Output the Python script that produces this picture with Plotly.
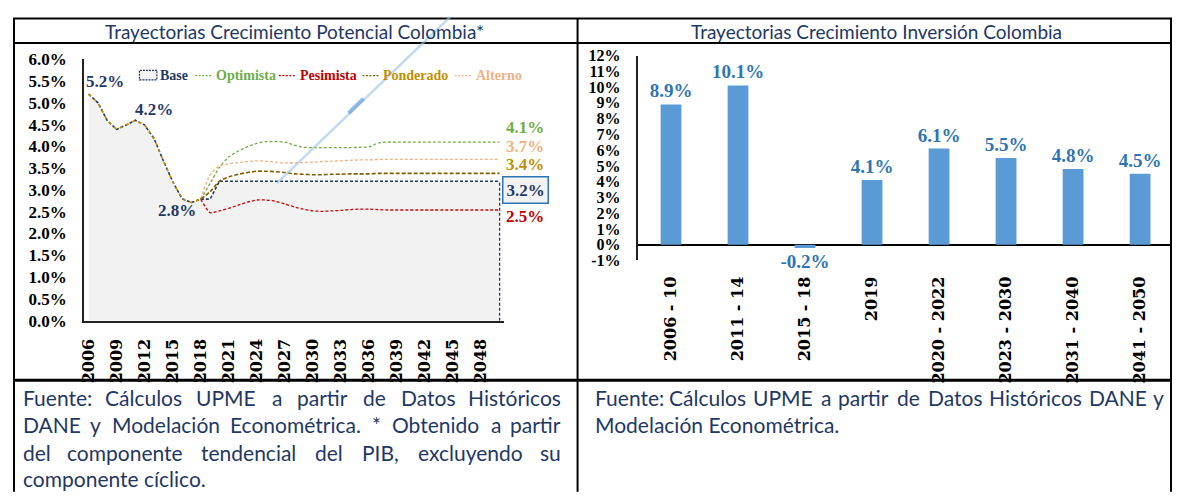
import plotly.graph_objects as go

# The page body keeps its default 8px margin, so the figure is sized to fit the window inside it.
OX, OY = 8, 8
FW, FH = 1164, 486

# ---------------- data: left chart (potential growth, % per year) ----------------
years = list(range(2006, 2051))
year_ticks = [2006, 2009, 2012, 2015, 2018, 2021, 2024, 2027, 2030, 2033, 2036, 2039, 2042, 2045, 2048]
hist_vals = [5.20, 5.00, 4.59, 4.39, 4.49, 4.60, 4.49, 4.18, 3.67, 3.19, 2.80, 2.71, 2.79]  # 2006-2018
# projections 2019-2050
base_proj = [2.79, 3.20, 3.20, 3.20, 3.20, 3.20, 3.20, 3.20, 3.20, 3.20, 3.20, 3.20, 3.20, 3.20, 3.20, 3.20,
             3.20, 3.20, 3.20, 3.20, 3.20, 3.20, 3.20, 3.20, 3.20, 3.20, 3.20, 3.20, 3.20, 3.20, 3.20, 3.20]
opt_proj = [3.15, 3.52, 3.76, 3.89, 3.99, 4.07, 4.11, 4.11, 4.10, 4.03, 3.98, 3.97, 3.97, 3.97, 3.97, 3.97,
            3.98, 3.99, 4.08, 4.10, 4.10, 4.10, 4.10, 4.10, 4.10, 4.10, 4.10, 4.10, 4.10, 4.10, 4.10, 4.10]
pes_proj = [2.48, 2.52, 2.58, 2.65, 2.72, 2.77, 2.77, 2.74, 2.68, 2.61, 2.56, 2.52, 2.51, 2.52, 2.53, 2.55,
            2.56, 2.56, 2.55, 2.54, 2.54, 2.54, 2.54, 2.54, 2.54, 2.54, 2.54, 2.54, 2.54, 2.54, 2.54, 2.54]
pon_proj = [2.96, 3.20, 3.30, 3.36, 3.40, 3.43, 3.43, 3.42, 3.40, 3.37, 3.36, 3.35, 3.35, 3.36, 3.36, 3.37,
            3.37, 3.37, 3.38, 3.38, 3.38, 3.38, 3.38, 3.38, 3.38, 3.38, 3.38, 3.38, 3.38, 3.38, 3.38, 3.38]
alt_proj = [3.35, 3.55, 3.60, 3.63, 3.65, 3.67, 3.66, 3.64, 3.62, 3.62, 3.63, 3.64, 3.65, 3.66, 3.67, 3.68,
            3.69, 3.69, 3.70, 3.70, 3.70, 3.70, 3.70, 3.70, 3.70, 3.70, 3.70, 3.70, 3.70, 3.70, 3.70, 3.70]
left_yticks = [0.0, 0.5, 1.0, 1.5, 2.0, 2.5, 3.0, 3.5, 4.0, 4.5, 5.0, 5.5, 6.0]

# ---------------- data: right chart (investment growth) ----------------
periods = ["2006 - 10", "2011 - 14", "2015 - 18", "2019", "2020 - 2022", "2023 - 2030", "2031 - 2040", "2041 - 2050"]
inv_growth = [8.9, 10.1, -0.2, 4.1, 6.1, 5.5, 4.8, 4.5]
right_yticks = [-1, 0, 1, 2, 3, 4, 5, 6, 7, 8, 9, 10, 11, 12]

# ---------------- texts ----------------
title_left = "Trayectorias Crecimiento Potencial Colombia*"
title_right = "Trayectorias Crecimiento Inversión Colombia"
foot_left = ["Fuente: Cálculos UPME a partir de Datos Históricos",
             "DANE y Modelación Econométrica. * Obtenido a partir",
             "del componente tendencial del PIB, excluyendo su",
             "componente cíclico."]
foot_right = ["Fuente: Cálculos UPME a partir de Datos Históricos DANE y",
              "Modelación Econométrica."]

# ---------------- styles ----------------
NAVY = "#1F3864"
GREEN = "#70AD47"
RED = "#D00000"
RED_T = "#C00000"
GOLD_T = "#BF9000"
BROWN = "#7F6000"
PEACH = "#F4B183"
BAR = "#5B9BD5"
BAR_T = "#2E75B6"
SERIF = "Liberation Serif"
WIDE_SERIF = "DejaVu Serif"
SANS = "Lato"


def px(x):
    return (x - OX) / FW


def py(y):
    return 1 - (y - OY) / FH


def clamp(v):
    return max(0.0, min(1.0, v))


hist_years = years[:len(hist_vals)]
proj_years = years[len(hist_vals) - 1:]

fig = go.Figure()

# Base (area)
base_all = hist_vals + base_proj
fig.add_trace(go.Scatter(x=years, y=base_all, mode="lines", fill="tozeroy", fillcolor="#F2F2F2",
                         line=dict(color=NAVY, width=1.6, dash="3px,2px"), hoverinfo="skip",
                         xaxis="x", yaxis="y", showlegend=False))
fig.add_trace(go.Scatter(x=[years[-1], years[-1]], y=[0, base_all[-1]], mode="lines",
                         line=dict(color=NAVY, width=1.3, dash="3px,2px"), hoverinfo="skip",
                         xaxis="x", yaxis="y", showlegend=False))


def scen(vals, color, width, dash="3px,2px"):
    fig.add_trace(go.Scatter(x=proj_years, y=[hist_vals[-1]] + vals, mode="lines",
                             line=dict(color=color, width=width, dash=dash, shape="spline", smoothing=0.6),
                             xaxis="x", yaxis="y", showlegend=False))


scen(opt_proj, GREEN, 1.3)
scen(pes_proj, RED, 1.3)
scen(alt_proj, PEACH, 1.3)
# Ponderado: historical + projection
fig.add_trace(go.Scatter(x=hist_years, y=hist_vals, mode="lines",
                         line=dict(color=GOLD_T, width=1.6, dash="3px,4px"),
                         xaxis="x", yaxis="y", showlegend=False))
scen(pon_proj, BROWN, 1.6, "4px,2px")

# Right chart bars
fig.add_trace(go.Bar(x=periods, y=inv_growth, marker=dict(color=BAR, line=dict(width=0)), width=0.31,
                     text=[f"{v:.1f}%" for v in inv_growth], textposition="outside", constraintext="none",
                     textfont=dict(family=SERIF, size=19, color=BAR_T, weight="bold"),
                     cliponaxis=False, xaxis="x2", yaxis="y2", showlegend=False))

# right chart: keep the category width of the original, the last half category is cut by the window
r_left, r_step = 635.2, 67.3
r_right = min(OX + FW, r_left + 8 * r_step)
r_range_hi = -0.5 + (r_right - r_left) / r_step

fig.update_layout(
    width=FW, height=FH, autosize=False, margin=dict(l=0, r=0, t=0, b=0, pad=0),
    paper_bgcolor="white", plot_bgcolor="rgba(0,0,0,0)", showlegend=False,
    xaxis=dict(domain=[clamp(px(79.3)), clamp(px(501.4))], range=[2005.5, 2050.5], tickvals=year_ticks,
               ticktext=[str(v) for v in year_ticks], tickangle=-90, showgrid=False, zeroline=False,
               showline=True, linecolor="#222", linewidth=1.5, ticks="", ticklabelstandoff=10,
               tickfont=dict(family=WIDE_SERIF, size=16, color="black", weight="bold"), anchor="y"),
    yaxis=dict(domain=[clamp(py(324)), clamp(py(52))], range=[0, 6], tickvals=left_yticks,
               ticktext=[f"{v:.1f}%" for v in left_yticks], showgrid=False, zeroline=False,
               showline=True, linecolor="#222", linewidth=1.5, ticks="", ticklabelstandoff=12,
               tickfont=dict(family=SERIF, size=17, color="black", weight="bold"), anchor="x"),
    xaxis2=dict(domain=[clamp(px(r_left)), clamp(px(r_right))], range=[-0.5, r_range_hi], type="category",
                tickangle=-90, showgrid=False, zeroline=False, showline=False, ticks="", ticklabelstandoff=12,
                tickfont=dict(family=WIDE_SERIF, size=16, color="black", weight="bold"), anchor="y2"),
    yaxis2=dict(domain=[clamp(py(261.4)), clamp(py(48.1))], range=[-1, 12], tickvals=right_yticks,
                ticktext=[f"{v}%" for v in right_yticks], showgrid=False, zeroline=True,
                zerolinecolor="black", zerolinewidth=1.5, showline=True, linecolor="#222", linewidth=1.5,
                ticks="", ticklabelstandoff=12,
                tickfont=dict(family=SERIF, size=16, color="black", weight="bold"), anchor="x2"),
)

anns = []
shapes = []


def text(t, x, y, size, color, family=SERIF, bold=True, xanchor="center", **kw):
    d = dict(text=t, x=px(x), y=py(y), xref="paper", yref="paper", showarrow=False,
             xanchor=xanchor, yanchor="middle",
             font=dict(family=family, size=size, color=color, weight="bold" if bold else "normal"))
    d.update(kw)
    anns.append(d)


# left chart data labels
text("5.2%", 100, 75, 17, NAVY)
text("4.2%", 150, 104, 17, NAVY)
text("2.8%", 173, 209, 17, NAVY)
text("4.1%", 522.5, 123, 17, GREEN)
text("3.7%", 522.5, 143, 17, PEACH)
text("3.4%", 522.5, 162, 17, GOLD_T)
text("3.2%", 522.5, 188, 17, NAVY, bordercolor="#2E75B6", borderwidth=1.5, borderpad=3, bgcolor="#F2F2F2")
text("2.5%", 522.5, 216, 17, RED_T)

# manual legend (left chart)
shapes.append(dict(type="rect", xref="paper", yref="paper", x0=px(135), x1=px(152.5), y0=py(73.5), y1=py(63.5),
                   fillcolor="#F2F2F2", line=dict(color=NAVY, width=1.2, dash="2px,1px")))
leg = [("Base", None, 154, NAVY), ("Optimista", GREEN, 210, GREEN), ("Pesimista", RED, 294, RED_T),
       ("Ponderado", BROWN, 378, GOLD_T), ("Alterno", PEACH, 470.5, PEACH)]
for name, lc, tx, tc in leg:
    if lc is not None:
        shapes.append(dict(type="line", xref="paper", yref="paper", x0=px(tx - 19), x1=px(tx - 1.5),
                           y0=py(69), y1=py(69), line=dict(color=lc, width=1.3, dash="2px,1.5px")))
    text(name, tx, 69, 14, tc, xanchor="left")

# headers
text(title_left, 291, 23, 19, NAVY, family=SANS, bold=False)
text(title_right, 875.5, 23, 19, NAVY, family=SANS, bold=False)

# footer with justification
LATO = {" ": 0.193, "a": 0.49, "b": 0.554, "c": 0.459, "d": 0.554, "e": 0.518, "f": 0.327, "g": 0.502,
        "h": 0.553, "i": 0.235, "j": 0.235, "k": 0.508, "l": 0.235, "m": 0.826, "n": 0.553, "o": 0.551,
        "p": 0.547, "q": 0.554, "r": 0.383, "s": 0.426, "t": 0.356, "u": 0.553, "v": 0.508, "w": 0.768,
        "x": 0.496, "y": 0.508, "z": 0.456, "á": 0.49, "é": 0.518, "í": 0.235, "ó": 0.551,
        "A": 0.686, "B": 0.642, "C": 0.683, "D": 0.752, "E": 0.576, "F": 0.561, "H": 0.752, "I": 0.287,
        "M": 0.914, "N": 0.752, "O": 0.79, "P": 0.596, "U": 0.723, ".": 0.224, ",": 0.224, ":": 0.224,
        "*": 0.421}
FOOT_FS = 21


def tw(s):
    return sum(LATO.get(c, 0.55) for c in s) * FOOT_FS


def foot_line(line, x0, x1, y, justify):
    words = line.split(" ")
    if not justify:
        text(line, x0, y, FOOT_FS, NAVY, family=SANS, bold=False, xanchor="left")
        return
    widths = [tw(w) for w in words]
    gap = (x1 - x0 - sum(widths)) / (len(words) - 1)
    cur = x0
    for i, (w, wd) in enumerate(zip(words, widths)):
        if i == 0:
            text(w, x0, y, FOOT_FS, NAVY, family=SANS, bold=False, xanchor="left")
        elif i == len(words) - 1:
            text(w, x1, y, FOOT_FS, NAVY, family=SANS, bold=False, xanchor="right")
        else:
            text(w, cur + wd / 2, y, FOOT_FS, NAVY, family=SANS, bold=False)
        cur += wd + gap


line_y = [404, 432.5, 461, 488]
for i, ln in enumerate(foot_left):
    foot_line(ln, 16, 560, line_y[i], justify=(i < len(foot_left) - 1))
for i, ln in enumerate(foot_right):
    foot_line(ln, 590, 1166, line_y[i], justify=(i < len(foot_right) - 1))


# table frame
def hline(y, x0, x1, w):
    shapes.append(dict(type="line", xref="paper", yref="paper", x0=px(x0), x1=px(x1), y0=py(y), y1=py(y),
                       line=dict(color="black", width=w)))


def vline(x, y0, y1, w):
    shapes.append(dict(type="line", xref="paper", yref="paper", x0=px(x), x1=px(x), y0=py(y0), y1=py(y1),
                       line=dict(color="black", width=w)))


hline(9.5, 8, 1177, 2)
hline(35, 8, 1177, 2)
hline(386, 8, 1177, 3)
vline(9, 9, 502, 2)
vline(575, 9, 502, 2)
vline(1171, 9, 502, 2)

# faint light-blue streak (scan artefact), 45 degrees
shapes.append(dict(type="line", xref="paper", yref="paper", x0=px(447), y0=py(8), x1=px(273), y1=py(181),
                   line=dict(color="rgba(157,195,230,0.6)", width=2.5)))
shapes.append(dict(type="line", xref="paper", yref="paper", x0=px(345), y0=py(108), x1=px(360), y1=py(93),
                   line=dict(color="rgba(120,170,220,0.8)", width=4)))

fig.update_layout(annotations=anns, shapes=shapes)

fig.write_html("out.html", config={"displayModeBar": False})
